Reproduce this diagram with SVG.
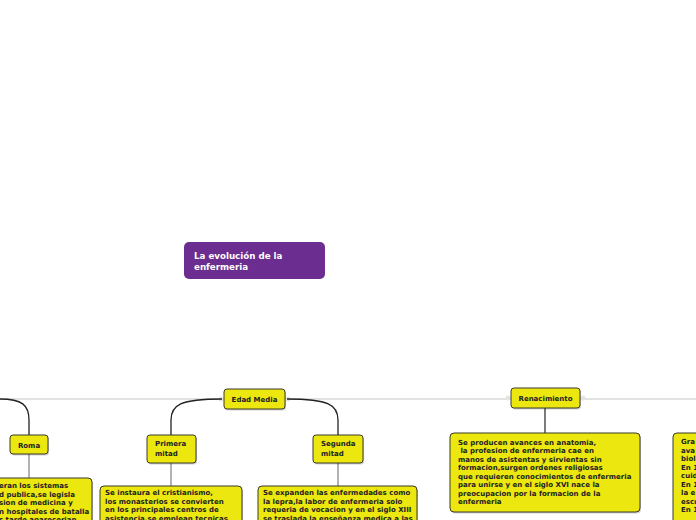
<svg xmlns="http://www.w3.org/2000/svg" width="696" height="520" viewBox="0 0 696 520">
<defs>
<style>
.box{fill:#ebe70f;stroke:#3a3a2a;stroke-width:1;}
.sh{fill:#000;opacity:0.18;}
.t{font-family:"DejaVu Sans",Verdana,sans-serif;font-weight:bold;font-size:7px;fill:#222;}
.tt{font-family:"DejaVu Sans",Verdana,sans-serif;font-weight:bold;font-size:8.7px;fill:#fff;}
.cv{fill:none;stroke:#222;stroke-width:1.3;}
.vl{fill:none;stroke:#666;stroke-width:1;}
.dot{fill:#e4e4e4;}
</style>
</defs>
<rect width="696" height="520" fill="#fff"/>
<g id="connectors">
<line x1="0" y1="399" x2="696" y2="399" stroke="#e2e2e2" stroke-width="2"/>
<circle class="dot" cx="221" cy="399" r="2.5"/>
<circle class="dot" cx="288" cy="399" r="2.5"/>
<circle class="dot" cx="508" cy="398" r="2.5"/>
<circle class="dot" cx="583" cy="398" r="2.5"/>
<path class="cv" d="M0 399 C 22 399, 29 405, 29 420 L 29 435"/>
<path class="cv" d="M222 399 C 180 399, 171 405, 171 420 L 171 435"/>
<path class="cv" d="M287 399 C 329 399, 338 405, 338 420 L 338 435"/>
<line x1="545" y1="408" x2="545" y2="433" stroke="#444" stroke-width="1.4"/>
<line class="vl" x1="29" y1="454" x2="29" y2="478"/>
<line class="vl" x1="171" y1="463" x2="171" y2="486"/>
<line class="vl" x1="338" y1="463" x2="338" y2="487"/>
</g>
<g id="central">
<rect x="184" y="242" width="141" height="37" rx="5" fill="#6b2d8f"/>
<text class="tt" x="194" y="259">La evolución de la</text>
<text class="tt" x="194" y="270">enfermeria</text>
</g>
<g id="edad-media">
<rect class="sh" x="225" y="390.5" width="61" height="20" rx="3"/>
<rect class="box" x="224" y="389" width="61" height="20" rx="3"/>
<text class="t" x="254.5" y="402" text-anchor="middle">Edad Media</text>
</g>
<g id="renacimiento">
<rect class="sh" x="512" y="389.5" width="69" height="20" rx="3"/>
<rect class="box" x="511" y="388" width="69" height="20" rx="3"/>
<text class="t" x="545.5" y="401" text-anchor="middle">Renacimiento</text>
</g>
<g id="roma">
<rect class="sh" x="11" y="436.5" width="38" height="19" rx="3"/>
<rect class="box" x="10" y="435" width="38" height="19" rx="3"/>
<text class="t" x="29" y="447.5" text-anchor="middle">Roma</text>
</g>
<g id="primera-mitad">
<rect class="sh" x="148" y="436.5" width="49" height="28" rx="3"/>
<rect class="box" x="147" y="435" width="49" height="28" rx="3"/>
<text class="t" x="155" y="446">Primera</text>
<text class="t" x="155" y="456">mitad</text>
</g>
<g id="segunda-mitad">
<rect class="sh" x="314" y="436.5" width="50" height="28" rx="3"/>
<rect class="box" x="313" y="435" width="50" height="28" rx="3"/>
<text class="t" x="321" y="446">Segunda</text>
<text class="t" x="321" y="456">mitad</text>
</g>
<g id="roma-texto">
<rect class="sh" x="-9" y="479.5" width="102" height="60" rx="4"/>
<rect class="box" x="-10" y="478" width="102" height="60" rx="4"/>
<text class="t" x="-1" y="488">eran los sistemas</text>
<text class="t" x="-1" y="496.5">d publica,se legisla</text>
<text class="t" x="-1" y="505">sion de medicina y</text>
<text class="t" x="-1" y="513.5">n hospitales de batalla</text>
<text class="t" x="-1" y="522">s tarde aparecerian</text>
</g>
<g id="primera-texto">
<rect class="sh" x="101" y="487.5" width="142" height="50" rx="4"/>
<rect class="box" x="100" y="486" width="142" height="50" rx="4"/>
<text class="t" x="105" y="495">Se instaura el cristianismo,</text>
<text class="t" x="105" y="503.5">los monasterios se convierten</text>
<text class="t" x="105" y="512">en los principales centros de</text>
<text class="t" x="105" y="520.5">asistencia,se emplean tecnicas</text>
</g>
<g id="segunda-texto">
<rect class="sh" x="259" y="487.5" width="159" height="50" rx="4"/>
<rect class="box" x="258" y="486" width="159" height="50" rx="4"/>
<text class="t" x="263" y="495">Se expanden las enfermedades como</text>
<text class="t" x="263" y="503.5">la lepra,la labor de enfermeria solo</text>
<text class="t" x="263" y="512">requeria de vocacion y en el siglo XIII</text>
<text class="t" x="263" y="520.5">se traslada la enseñanza medica a las</text>
</g>
<g id="renacimiento-texto">
<rect class="sh" x="451" y="434.5" width="190" height="79" rx="4"/>
<rect class="box" x="450" y="433" width="190" height="79" rx="4"/>
<text class="t" x="458" y="444.5">Se producen avances en anatomia,</text>
<text class="t" x="458" y="453" xml:space="preserve"> la profesion de enfermeria cae en</text>
<text class="t" x="458" y="461.5">manos de asistentas y sirvientas sin</text>
<text class="t" x="458" y="470">formacion,surgen ordenes religiosas</text>
<text class="t" x="458" y="478.5">que requieren conocimientos de enfermeria</text>
<text class="t" x="458" y="487">para unirse y en el siglo XVI nace la</text>
<text class="t" x="458" y="495.5">preocupacion por la formacion de la</text>
<text class="t" x="458" y="504">enfermeria</text>
</g>
<g id="derecha-texto">
<rect class="sh" x="674" y="434.5" width="60" height="100" rx="4"/>
<rect class="box" x="673" y="433" width="60" height="100" rx="4"/>
<text class="t" x="681" y="444">Gra</text>
<text class="t" x="681" y="452.5">ava</text>
<text class="t" x="681" y="461">biol</text>
<text class="t" x="681" y="469.5">En 1</text>
<text class="t" x="681" y="478">cuid</text>
<text class="t" x="681" y="486.5">En 1</text>
<text class="t" x="681" y="495">la e</text>
<text class="t" x="681" y="503.5">escu</text>
<text class="t" x="681" y="512">En 1</text>
</g>
</svg>
